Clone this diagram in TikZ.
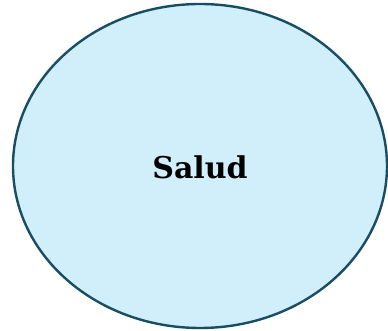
\documentclass[tikz,border=0pt]{standalone}
\usepackage{fontspec}
\setmainfont{DejaVu Serif}
\usepackage{tikz}

\definecolor{saludfill}{HTML}{D0EFFB}
\definecolor{saludline}{HTML}{184D63}

\begin{document}
\begin{tikzpicture}[x=1pt,y=1pt]
  \useasboundingbox (0,0) rectangle (388,331);
  \fill[saludfill] (200,165) ellipse (187 and 162);
  \draw[saludline,line width=2.4pt] (200,165) ellipse (187 and 162);
  \node (salud) at (200,164) {\fontsize{30}{36}\selectfont\bfseries Salud};
\end{tikzpicture}
\end{document}
